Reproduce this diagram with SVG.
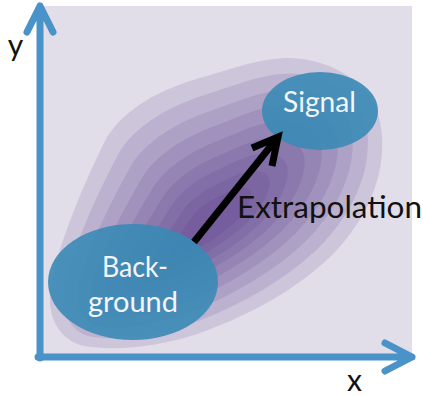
<svg xmlns="http://www.w3.org/2000/svg" xmlns:xlink="http://www.w3.org/1999/xlink" width="423" height="396" viewBox="0 0 423 396">
  <style>
    .axis { stroke: #4a93c8; stroke-width: 7; fill: none; stroke-linecap: round; stroke-linejoin: round; }
    .lvl { fill: #4b2e83; fill-opacity: 0.13; }
    .node { fill: #3a8ab5; fill-opacity: 0.9; }
    .ntxt { font-family: Lato, "Liberation Sans", sans-serif; font-size: 29px; fill: #f2f6fa; }
    .lbl { font-family: Lato, "Liberation Sans", sans-serif; font-size: 30px; fill: #111111; }
  </style>
  <defs>
    <path id="contour" d="M 50,300 C 50,262 85,180 107,137 C 128,105 165,88 200,78 C 235,68 260,58 290,58 C 340,60 380,90 382,135 C 385,180 365,220 335,252 C 300,288 250,315 200,333 C 160,347 110,352 80,345 C 60,338 50,320 50,300 Z"/>
  </defs>
  <rect id="plot-area" x="40" y="6" width="372" height="352" fill="#e1dde9"/>
  <g id="density">
    <use xlink:href="#contour" class="lvl"/>
    <use xlink:href="#contour" class="lvl" transform="translate(210,225) rotate(-41) scale(0.93,0.86) rotate(41) translate(-210,-225)"/>
    <use xlink:href="#contour" class="lvl" transform="translate(210,225) rotate(-41) scale(0.85,0.73) rotate(41) translate(-210,-225)"/>
    <use xlink:href="#contour" class="lvl" transform="translate(210,225) rotate(-41) scale(0.77,0.61) rotate(41) translate(-210,-225)"/>
    <use xlink:href="#contour" class="lvl" transform="translate(210,225) rotate(-41) scale(0.68,0.50) rotate(41) translate(-210,-225)"/>
    <use xlink:href="#contour" class="lvl" transform="translate(210,225) rotate(-41) scale(0.58,0.40) rotate(41) translate(-210,-225)"/>
    <use xlink:href="#contour" class="lvl" transform="translate(210,225) rotate(-41) scale(0.48,0.31) rotate(41) translate(-210,-225)"/>
    <use xlink:href="#contour" class="lvl" transform="translate(210,225) rotate(-41) scale(0.37,0.22) rotate(41) translate(-210,-225)"/>
    <use xlink:href="#contour" class="lvl" transform="translate(210,225) rotate(-41) scale(0.26,0.14) rotate(41) translate(-210,-225)"/>
  </g>
  <g id="axes">
    <path class="axis" d="M 40,358 L 40,6 M 27,32 L 40,6 L 53,32"/>
    <path class="axis" d="M 38,357 L 412,357 M 385,343 L 412,357 L 385,371"/>
    <text class="lbl" x="15.5" y="56" text-anchor="middle">y</text>
    <text class="lbl" x="354.5" y="391" text-anchor="middle">x</text>
  </g>
  <g id="node-signal">
    <ellipse class="node" cx="320" cy="111" rx="58" ry="39"/>
    <text class="ntxt" x="319.5" y="112" text-anchor="middle" textLength="73" lengthAdjust="spacingAndGlyphs">Signal</text>
  </g>
  <g id="node-background">
    <ellipse class="node" cx="133" cy="282" rx="85" ry="58"/>
    <text class="ntxt" x="102" y="277" textLength="66" lengthAdjust="spacingAndGlyphs">Back-</text>
    <text class="ntxt" x="88" y="312" textLength="90" lengthAdjust="spacingAndGlyphs">ground</text>
  </g>
  <g id="connectors">
    <path d="M 194,242 L 278,137 M 252,148 L 278,137 L 272,166" fill="none" stroke="#000" stroke-width="7" stroke-linejoin="miter" stroke-linecap="butt"/>
    <text class="lbl" x="237" y="218" textLength="185" lengthAdjust="spacingAndGlyphs">Extrapolation</text>
  </g>
</svg>
